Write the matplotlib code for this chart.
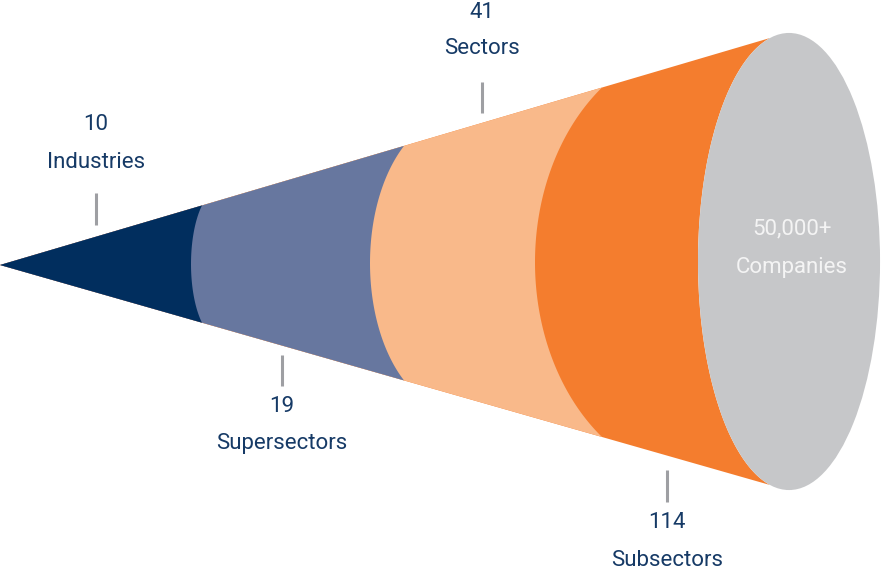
import numpy as np
import matplotlib
matplotlib.use("Agg")
import matplotlib.pyplot as plt
from matplotlib.patches import Polygon, Ellipse

plt.rcParams['font.family'] = ['Roboto', 'DejaVu Sans']

# labels of the cone levels
counts = ["10", "19", "41", "114"]
names  = ["Industries", "Supersectors", "Sectors", "Subsectors"]
total_count = "50,000+"
total_name  = "Companies"

colors = ["#012E5E", "#67779F", "#F9B98A", "#F47D2E"]
END_COLOR  = "#C6C7C9"
TEXT_COLOR = "#163A66"
TICK_COLOR = "#9E9FA3"

# cone geometry in pixels (x right, y down)
APEX = (0, 265)
END_X = 770
END_TOP, END_BOT = 38, 485
band_x    = [202, 404, 602, 770]   # where each section meets the cone edges
band_left = [191, 370, 535, 698]   # leftmost point of each section arc
band_sq   = [0.6, 0.6, 0.6, 0.209] # how far the edge point sits from the ellipse side

def edge_y(x):
    top = APEX[1] + (END_TOP - APEX[1]) * x / END_X
    bot = APEX[1] + (END_BOT - APEX[1]) * x / END_X
    return top, bot

def section(i):
    xk, lk, s = band_x[i], band_left[i], band_sq[i]
    top, bot = edge_y(xk)
    yc = (top + bot) / 2
    h = (bot - top) / 2
    A = (xk - lk) / (1 - s)
    B = h / np.sqrt(1 - s ** 2)
    cx = lk + A
    return cx, yc, A, B, top, bot

def left_region(i):
    cx, yc, A, B, top, bot = section(i)
    ys = np.linspace(top, bot, 300)
    xs = cx - A * np.sqrt(np.clip(1 - ((ys - yc) / B) ** 2, 0, None))
    return [APEX] + list(zip(xs, ys))

fig = plt.figure(figsize=(8.84, 5.74), dpi=100)
ax = fig.add_axes([0, 0, 1, 1])
ax.set_xlim(0, 884)
ax.set_ylim(574, 0)
ax.axis("off")

for i in range(len(band_x) - 1, -1, -1):
    ax.add_patch(Polygon(left_region(i), closed=True, facecolor=colors[i],
                         edgecolor="none"))

cx, yc, A, B, top, bot = section(len(band_x) - 1)
ax.add_patch(Ellipse((cx, yc), 2 * A, 2 * B, facecolor=END_COLOR, edgecolor="none"))
ax.text(cx + 3, 229, total_count, color="#F4F4F4", fontsize=16, ha="center", va="center")
ax.text(cx + 3, 267, total_name, color="#F4F4F4", fontsize=16, ha="center", va="center")

# label positions: (x, tick y0, tick y1, number y, name y)
label_pos = [(96, 193, 225, 125, 162),
             (282, 355, 386, 407, 444),
             (482, 82, 113, 12, 49),
             (667, 470, 502, 523, 561)]

for (lx, t0, t1, ny, my), c, n in zip(label_pos, counts, names):
    ax.plot([lx, lx], [t0, t1], color=TICK_COLOR, lw=2.2, solid_capstyle="butt")
    ax.text(lx, ny, c, color=TEXT_COLOR, fontsize=16, ha="center", va="center")
    ax.text(lx, my, n, color=TEXT_COLOR, fontsize=16, ha="center", va="center")

fig.savefig("out.png", dpi=100)
